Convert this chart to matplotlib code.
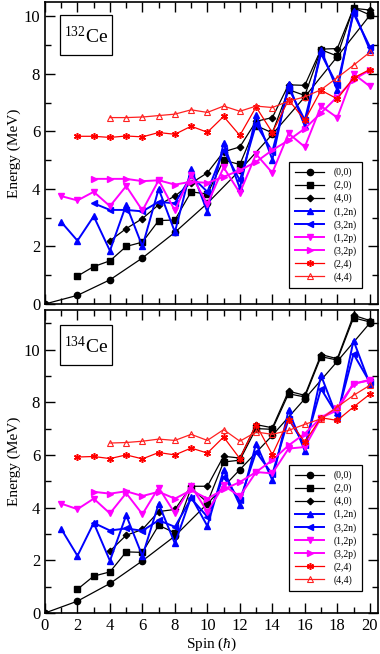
import matplotlib
matplotlib.use("Agg")
import matplotlib.pyplot as plt
from matplotlib.ticker import MultipleLocator
from matplotlib.patches import Rectangle

plt.rcParams['font.family'] = ['Liberation Serif', 'DejaVu Serif']
plt.rcParams['mathtext.fontset'] = 'custom'
plt.rcParams['mathtext.rm'] = 'Liberation Serif'
plt.rcParams['mathtext.it'] = 'Liberation Serif:italic'

# ---------------- data ----------------
labels = ['(0,0)', '(2,0)', '(4,0)', '(1,2n)', '(3,2n)', '(1,2p)', '(3,2p)', '(2,4)', '(4,4)']
spins_00 = list(range(0, 21, 2))
spins_20 = list(range(2, 21))
spins_40 = list(range(4, 21))
spins_12n = list(range(1, 21))
spins_32n = list(range(3, 21))
spins_12p = list(range(1, 21))
spins_32p = list(range(3, 21))
spins_24 = list(range(2, 21))
spins_44 = list(range(4, 21))

# 132Ce
E132_00 = [0, 0.30, 0.84, 1.60, 2.49, 3.50, 4.65, 5.90, 7.20, 8.60, 10.03]
E132_20 = [0.97, 1.30, 1.50, 2.00, 2.15, 2.90, 2.92, 3.90, 3.82, 5.00, 4.85, 6.20, 5.95, 7.45, 7.25, 8.84, 8.62, 10.30, 10.05]
E132_40 = [2.20, 2.62, 2.97, 3.45, 3.75, 4.20, 4.56, 5.29, 5.46, 6.35, 6.48, 7.62, 7.60, 8.86, 8.88, 10.28, 10.22]
E132_12n = [2.85, 2.20, 3.05, 1.85, 3.45, 2.00, 4.00, 2.50, 4.70, 3.20, 5.58, 4.02, 6.56, 5.02, 7.64, 6.18, 8.84, 7.43, 10.20, 8.84]
E132_32n = [3.50, 3.27, 3.27, 3.22, 3.55, 3.50, 4.45, 3.90, 5.35, 4.30, 6.25, 5.30, 7.50, 6.40, 8.70, 7.60, 10.10, 8.95]
E132_12p = [3.75, 3.60, 3.90, 3.40, 4.10, 3.25, 4.30, 3.25, 4.50, 3.47, 4.75, 3.86, 5.21, 4.56, 5.93, 5.46, 6.88, 6.48, 8.00, 7.57]
E132_32p = [4.35, 4.35, 4.35, 4.27, 4.30, 4.15, 4.25, 4.21, 4.42, 4.65, 4.94, 5.35, 5.69, 6.10, 6.64, 7.20, 7.80, 8.13]
E132_24 = [5.83, 5.83, 5.79, 5.84, 5.81, 5.96, 5.90, 6.18, 5.97, 6.52, 5.86, 6.85, 5.96, 7.10, 6.39, 7.43, 7.13, 7.86, 8.15]
E132_44 = [6.48, 6.48, 6.50, 6.55, 6.60, 6.75, 6.66, 6.88, 6.70, 6.88, 6.83, 7.05, 7.20, 7.45, 7.87, 8.30, 8.75]

# 134Ce
E134_00 = [0, 0.45, 1.12, 1.98, 2.92, 4.15, 5.44, 6.74, 8.13, 9.55, 11.00]
E134_20 = [0.90, 1.40, 1.56, 2.32, 2.30, 3.33, 3.04, 4.75, 4.19, 5.73, 5.80, 7.00, 6.97, 8.32, 8.20, 9.73, 9.60, 11.20, 11.05]
E134_40 = [2.35, 2.95, 3.17, 3.85, 3.93, 4.81, 4.81, 5.95, 5.88, 7.15, 7.03, 8.42, 8.26, 9.81, 9.65, 11.30, 11.10]
E134_12n = [3.19, 2.17, 3.42, 1.98, 3.71, 2.16, 4.15, 2.64, 4.41, 3.30, 5.42, 4.09, 6.43, 5.04, 7.69, 6.15, 9.02, 7.41, 10.34, 8.70]
E134_32n = [3.42, 3.13, 3.21, 3.12, 3.52, 3.27, 4.35, 3.65, 5.16, 4.28, 6.11, 5.27, 7.37, 6.36, 8.51, 7.50, 9.83, 8.76]
E134_12p = [4.15, 3.94, 4.34, 3.78, 4.55, 3.75, 4.76, 3.78, 4.82, 3.84, 4.84, 4.43, 5.35, 5.30, 6.24, 6.30, 7.41, 7.69, 8.70, 8.83]
E134_32p = [4.60, 4.53, 4.62, 4.44, 4.60, 4.34, 4.66, 4.34, 4.69, 4.97, 5.35, 5.80, 6.36, 6.81, 7.41, 7.79, 8.70, 8.85]
E134_24 = [5.92, 5.94, 5.86, 6.00, 5.85, 6.09, 6.00, 6.26, 6.07, 6.68, 5.86, 7.15, 6.01, 7.34, 6.49, 7.41, 7.31, 7.82, 8.30]
E134_44 = [6.45, 6.47, 6.52, 6.60, 6.55, 6.78, 6.55, 6.96, 6.52, 6.87, 6.78, 6.93, 7.16, 7.37, 7.82, 8.26, 8.64]

nuclei = [r'$^{132}$Ce', r'$^{134}$Ce']
ylims = [10.5, 11.5]

spins = [spins_00, spins_20, spins_40, spins_12n, spins_32n, spins_12p, spins_32p, spins_24, spins_44]
data132 = [E132_00, E132_20, E132_40, E132_12n, E132_32n, E132_12p, E132_32p, E132_24, E132_44]
data134 = [E134_00, E134_20, E134_40, E134_12n, E134_32n, E134_12p, E134_32p, E134_24, E134_44]

styles = [
    dict(color='black', marker='o', ms=4.5, lw=0.9),
    dict(color='black', marker='s', ms=4.3, lw=0.9),
    dict(color='black', marker='D', ms=3.3, lw=0.9),
    dict(color='#0000ff', marker='^', ms=5.0, lw=1.4),
    dict(color='#0000ff', marker='<', ms=5.0, lw=1.4),
    dict(color='#ff00ff', marker='v', ms=5.0, lw=1.4),
    dict(color='#ff00ff', marker='>', ms=5.0, lw=1.4),
    dict(color='#ff0000', marker=(6, 2, 0), ms=5.0, lw=0.9, mew=1.1),
    dict(color='#ff2020', marker='^', ms=4.0, lw=0.9, mfc='none', mew=0.8),
]

fig = plt.figure(figsize=(3.80, 6.54), dpi=100)
ax1 = fig.add_axes([0.1184, 0.5352, 0.876, 0.4618])
ax2 = fig.add_axes([0.1184, 0.0627, 0.876, 0.4633])

legend_anchor = [(0.953, 0.053), (0.953, 0.073)]
boxes = [(0.045, 0.824, 0.155, 0.133), (0.045, 0.818, 0.155, 0.132)]

for k, (ax, data) in enumerate(zip([ax1, ax2], [data132, data134])):
    for lab, sp, e, st in zip(labels, spins, data, styles):
        ax.plot(sp, e, label=lab, linestyle='-', **st)
    ax.set_xlim(0, 20.5)
    ax.set_ylim(0, ylims[k])
    ax.xaxis.set_major_locator(MultipleLocator(2))
    ax.xaxis.set_minor_locator(MultipleLocator(1))
    ax.yaxis.set_major_locator(MultipleLocator(2))
    ax.yaxis.set_minor_locator(MultipleLocator(1))
    ax.tick_params(which='both', direction='in', top=True, right=True, labelsize=12, width=1.0)
    ax.tick_params(which='major', length=7)
    ax.tick_params(which='minor', length=4)
    for s in ax.spines.values():
        s.set_linewidth(1.2)
    ax.set_ylabel('Energy (MeV)', fontsize=11, labelpad=2)
    bx, by, bw, bh = boxes[k]
    ax.add_patch(Rectangle((bx, by), bw, bh, transform=ax.transAxes, fc='white', ec='black',
                           lw=0.9, zorder=5))
    ax.text(bx + bw / 2, by + bh / 2 - 0.005, nuclei[k], transform=ax.transAxes, fontsize=14,
            va='center', ha='center', zorder=6)
    leg = ax.legend(loc='lower right', bbox_to_anchor=legend_anchor[k], fontsize=7, frameon=True,
                    fancybox=False, edgecolor='black', framealpha=1, handlelength=3.0,
                    handletextpad=0.9, labelspacing=0.36, borderpad=0.6, borderaxespad=0)
    leg.get_frame().set_linewidth(0.9)

ax1.tick_params(labelbottom=False)
ax2.set_xlabel(r'Spin ($\hbar$)', fontsize=11, labelpad=1)

fig.savefig('out.png', dpi=100)
